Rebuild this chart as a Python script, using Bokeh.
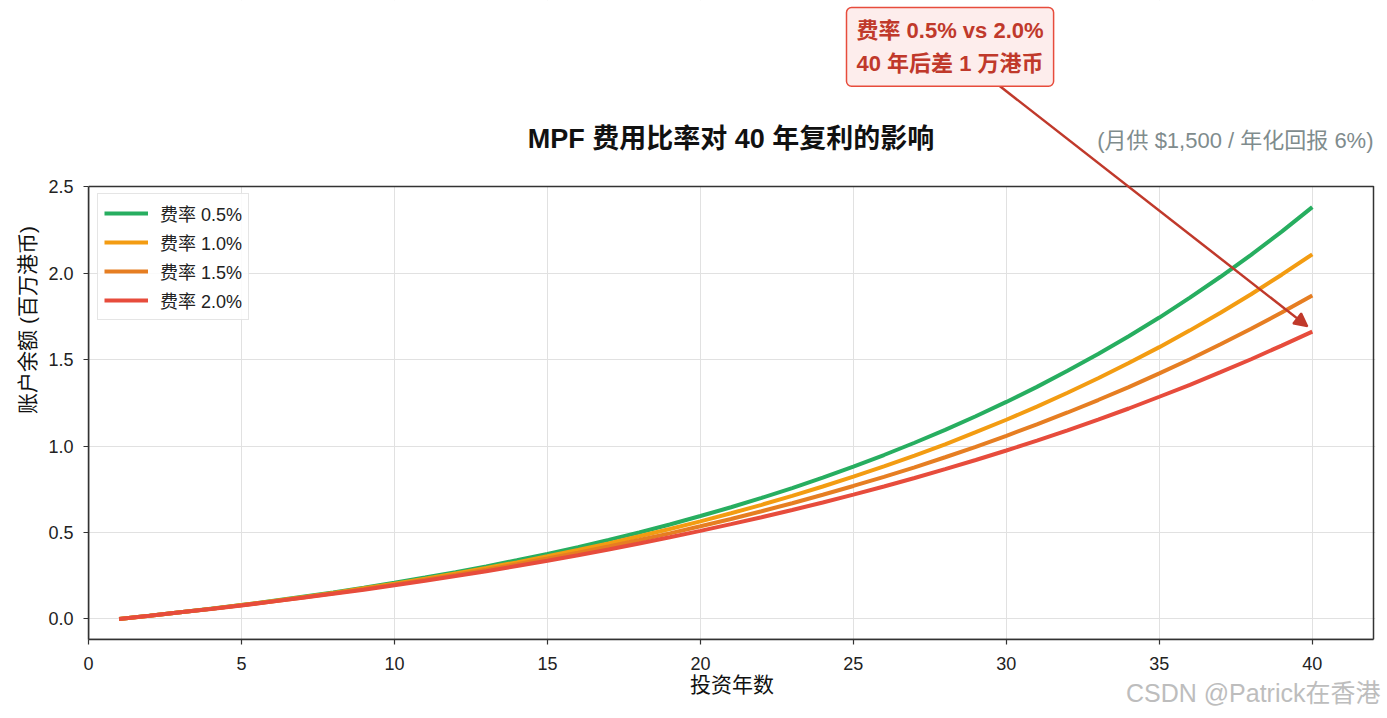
from bokeh.plotting import figure
from bokeh.models import (Range1d, FixedTicker, PrintfTickFormatter, Label, Arrow,
                          NormalHead, Legend, LegendItem, BoxAnnotation, Title)
from bokeh.embed import file_html
from bokeh.resources import INLINE

# ---------------- data ----------------
years = list(range(1, 41))
fee_labels = ["费率 0.5%", "费率 1.0%", "费率 1.5%", "费率 2.0%"]
fee_colors = ["#27ae60", "#f39c12", "#e67e22", "#e74c3c"]

fee_05 = [0.000, 0.019, 0.038, 0.059, 0.080, 0.103, 0.128, 0.153, 0.180, 0.209,
          0.239, 0.270, 0.304, 0.339, 0.376, 0.415, 0.457, 0.500, 0.546, 0.595,
          0.646, 0.700, 0.757, 0.817, 0.881, 0.948, 1.019, 1.093, 1.172, 1.255,
          1.342, 1.435, 1.532, 1.635, 1.743, 1.858, 1.979, 2.106, 2.240, 2.382]
fee_10 = [0.000, 0.018, 0.038, 0.058, 0.080, 0.102, 0.126, 0.150, 0.177, 0.204,
          0.232, 0.263, 0.294, 0.327, 0.362, 0.399, 0.437, 0.478, 0.520, 0.564,
          0.611, 0.660, 0.712, 0.766, 0.823, 0.882, 0.945, 1.010, 1.080, 1.152,
          1.228, 1.308, 1.392, 1.480, 1.572, 1.669, 1.771, 1.878, 1.991, 2.109]
fee_15 = [0.000, 0.018, 0.038, 0.058, 0.079, 0.101, 0.124, 0.148, 0.173, 0.199,
          0.227, 0.255, 0.285, 0.316, 0.349, 0.383, 0.419, 0.456, 0.495, 0.536,
          0.578, 0.623, 0.669, 0.718, 0.769, 0.822, 0.877, 0.935, 0.995, 1.059,
          1.125, 1.194, 1.266, 1.341, 1.420, 1.502, 1.589, 1.678, 1.772, 1.871]
fee_20 = [0.000, 0.018, 0.038, 0.057, 0.078, 0.100, 0.122, 0.145, 0.169, 0.195,
          0.221, 0.248, 0.276, 0.306, 0.336, 0.368, 0.401, 0.436, 0.472, 0.509,
          0.548, 0.588, 0.630, 0.673, 0.719, 0.766, 0.815, 0.866, 0.919, 0.974,
          1.031, 1.091, 1.153, 1.217, 1.285, 1.354, 1.427, 1.502, 1.581, 1.662]
series = [fee_05, fee_10, fee_15, fee_20]

x_ticks = [0, 5, 10, 15, 20, 25, 30, 35, 40]
y_ticks = [0.0, 0.5, 1.0, 1.5, 2.0, 2.5]

title_text = "MPF 费用比率对 40 年复利的影响"
subtitle_text = "(月供 $1,500 / 年化回报 6%)"
note_text = "费率 0.5% vs 2.0%\n40 年后差 1 万港币"
x_label = "投资年数"
y_label = "账户余额 (百万港币)"
watermark = "CSDN @Patrick在香港"

FONT = "Liberation Sans, Noto Sans CJK SC"

# ---------------- geometry ----------------
W, H = 1387, 718
AX_LEFT, AX_RIGHT, AX_TOP, AX_BOTTOM = 88, 1373, 186, 639   # axes box pixels
FRAME_RIGHT = 1375
X_MIN, X_MAX = 0, 42
ymax = max(fee_05)
pad = 0.05 * ymax
Y_MIN, Y_AX_MAX = -pad, ymax + pad
k = (AX_BOTTOM - AX_TOP) / (Y_AX_MAX - Y_MIN)      # px per data unit (y)
kx = (AX_RIGHT - AX_LEFT) / (X_MAX - X_MIN)        # px per data unit (x)
Y_CANVAS_TOP = Y_MIN + AX_BOTTOM / k
X_FRAME_MAX = X_MIN + (FRAME_RIGHT - AX_LEFT) / kx


def ypix(py):
    return Y_MIN + (AX_BOTTOM - py) / k


def xpix(px):
    return X_MIN + (px - AX_LEFT) / kx


p = figure(width=W, height=H, output_backend="svg", toolbar_location=None,
           x_range=Range1d(X_MIN, X_FRAME_MAX),
           y_range=Range1d(Y_MIN, Y_CANVAS_TOP),
           min_border_left=AX_LEFT, min_border_right=W - FRAME_RIGHT,
           min_border_top=0, min_border_bottom=H - AX_BOTTOM)
p.background_fill_color = "white"
p.border_fill_color = "white"
p.outline_line_color = None

p.grid.grid_line_color = "#e1e1e1"
p.grid.grid_line_width = 1

items = []
for lab, col, vals in zip(fee_labels, fee_colors, series):
    r = p.line(years, vals, line_color=col, line_width=4)
    items.append(LegendItem(label=lab, renderers=[r]))

# white cover above the axes box, then the axes box outline
p.add_layout(BoxAnnotation(bottom=Y_AX_MAX, fill_color="white", fill_alpha=1,
                           line_alpha=0))
p.add_layout(BoxAnnotation(left=X_MIN, right=X_MAX, bottom=Y_MIN, top=Y_AX_MAX,
                           fill_alpha=0, line_color="#333333", line_alpha=1,
                           line_width=1.5))

legend = Legend(items=items, location=(9, 444 - 9 - 125 + 9), padding=6,
                spacing=3, glyph_width=44, glyph_height=22, label_height=22,
                label_standoff=12, label_text_font=FONT,
                label_text_font_size="18px", label_text_color="#222222",
                border_line_color="#cccccc", border_line_width=1,
                background_fill_color="white", background_fill_alpha=0.85)
p.add_layout(legend)

# axes
p.xaxis.ticker = FixedTicker(ticks=x_ticks)
p.yaxis.ticker = FixedTicker(ticks=y_ticks)
p.yaxis.formatter = PrintfTickFormatter(format="%.1f")
p.xaxis.bounds = (X_MIN, X_MAX)
p.yaxis.bounds = (Y_MIN, Y_AX_MAX)
for ax in (p.xaxis, p.yaxis):
    ax.axis_line_color = "#333333"
    ax.axis_line_width = 1.5
    ax.major_tick_line_color = "#333333"
    ax.major_tick_line_width = 1.2
    ax.major_tick_out = 5
    ax.major_tick_in = 0
    ax.minor_tick_line_color = None
    ax.major_label_text_font = FONT
    ax.major_label_text_font_size = "18px"
    ax.major_label_text_color = "#222222"
    ax.axis_label_text_font = FONT
    ax.axis_label_text_font_size = "21px"
    ax.axis_label_text_font_style = "normal"
    ax.axis_label_text_color = "#111111"
p.xaxis.axis_label = x_label
p.yaxis.axis_label = y_label
p.xaxis.major_label_standoff = 12
p.xaxis.axis_label_standoff = 0
p.yaxis.major_label_standoff = 10
p.yaxis.axis_label_standoff = 6

# title & subtitle
p.add_layout(Label(x=(X_MIN + X_MAX) / 2, y=ypix(138), text=title_text,
                   text_font=FONT, text_font_size="27px",
                   text_font_style="bold", text_color="#111111",
                   text_align="center", text_baseline="middle"))
p.add_layout(Label(x=X_MAX, y=ypix(140), text=subtitle_text, text_font=FONT,
                   text_font_size="22px", text_color="#7f8c8d",
                   text_align="right", text_baseline="middle"))

# annotation arrow and box
p.add_layout(Arrow(end=NormalHead(size=13, fill_color="#c0392b",
                                  line_color="#c0392b", line_width=2),
                   x_start=xpix(996), y_start=ypix(83),
                   x_end=years[-1] - 0.16, y_end=fee_20[-1] + 0.03,
                   line_color="#c0392b", line_width=2.5))
p.add_layout(Label(x=xpix(846), y=ypix(7), text=note_text, text_font=FONT,
                   text_font_size="22px", text_font_style="bold",
                   text_color="#c0392b", text_align="left",
                   text_baseline="top", text_line_height=1.35,
                   background_fill_color="#fdedec",
                   border_line_color="#e74c3c", border_line_width=1.5,
                   border_radius=5, padding=10))

# watermark as a title below the x axis, pulled up into the label band
wm = Title(text=watermark, align="right", vertical_align="top",
           offset=-5, standoff=-40, text_font=FONT, text_font_size="25px",
           text_font_style="normal", text_color="#bdbdbd")
p.add_layout(wm, "below")

open("out.html", "w").write(file_html(p, INLINE))
